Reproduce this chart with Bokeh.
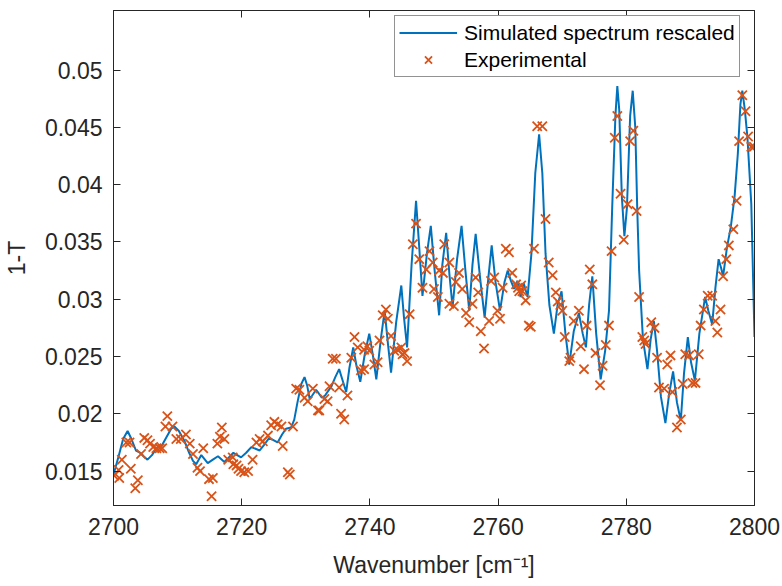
from bokeh.plotting import figure
from bokeh.models import Range1d, FixedTicker, LinearAxis
from bokeh.embed import file_html
from bokeh.resources import INLINE

# Simulated spectrum (rescaled)
sim_x = [2700.0, 2700.8, 2701.5, 2702.2, 2702.8, 2703.5, 2704.2, 2704.7, 2705.3, 2706.0,
         2706.7, 2707.5, 2708.3, 2709.0, 2709.5, 2710.2, 2711.1, 2711.8, 2712.4, 2712.9,
         2713.7, 2714.7, 2715.5, 2716.3, 2717.3, 2718.0, 2718.7, 2719.9, 2720.7, 2721.5,
         2722.8, 2723.5, 2724.3, 2725.6, 2726.3, 2726.9, 2727.7, 2728.2, 2728.7, 2729.3,
         2729.8, 2730.2, 2730.6, 2731.0, 2731.6, 2732.0, 2732.5, 2733.0, 2733.5, 2734.0,
         2734.6, 2735.2, 2735.7, 2736.3, 2736.8, 2737.4, 2737.9, 2738.5, 2739.2, 2739.9,
         2740.5, 2741.0, 2741.7, 2742.3, 2742.8, 2743.3, 2744.1, 2744.9, 2745.3, 2745.8,
         2746.5, 2747.2, 2747.7, 2748.2, 2748.9, 2749.5, 2750.1, 2750.8, 2751.3, 2751.9,
         2752.4, 2752.9, 2753.6, 2754.3, 2754.9, 2755.5, 2756.0, 2756.5, 2757.2, 2757.9,
         2758.5, 2759.0, 2759.6, 2760.3, 2761.0, 2761.5, 2762.0, 2762.5, 2763.0, 2763.5,
         2764.0, 2764.6, 2765.2, 2765.8, 2766.4, 2766.9, 2767.4, 2768.0, 2768.7, 2769.3,
         2769.9, 2770.5, 2771.1, 2771.8, 2772.6, 2773.2, 2773.7, 2774.2, 2774.7, 2775.3,
         2776.0, 2776.7, 2777.3, 2777.8, 2778.3, 2778.6, 2778.9, 2779.3, 2779.7, 2780.1,
         2780.6, 2781.0, 2781.4, 2781.7, 2782.0, 2782.6, 2783.3, 2783.8, 2784.3, 2784.8,
         2785.4, 2786.1, 2786.7, 2787.3, 2787.9, 2788.5, 2789.0, 2789.6, 2790.1, 2790.7,
         2791.4, 2792.3, 2792.8, 2793.4, 2793.9, 2794.4, 2794.8, 2795.1, 2795.7, 2796.3,
         2796.9, 2797.4, 2797.8, 2798.1, 2798.5, 2798.9, 2799.5, 2800.0]
sim_y = [0.0147, 0.0163, 0.0178, 0.0185, 0.0178, 0.0168, 0.0166, 0.0163, 0.0160, 0.0164,
         0.0170, 0.0172, 0.0180, 0.0187, 0.0189, 0.0185, 0.0176, 0.0166, 0.0159, 0.0156,
         0.0164, 0.0157, 0.0160, 0.0163, 0.0158, 0.0162, 0.0166, 0.0162, 0.0166, 0.0171,
         0.0168, 0.0173, 0.0179, 0.0175, 0.0182, 0.0187, 0.0188, 0.0195, 0.0210, 0.0226,
         0.0232, 0.0225, 0.0213, 0.0216, 0.0221, 0.0218, 0.0214, 0.0216, 0.0220, 0.0224,
         0.0232, 0.0239, 0.0230, 0.0219, 0.0240, 0.0258, 0.0242, 0.0228, 0.0252, 0.0270,
         0.0250, 0.0230, 0.0265, 0.0290, 0.0262, 0.0236, 0.0280, 0.0312, 0.0285, 0.0258,
         0.0330, 0.0386, 0.0345, 0.0303, 0.0340, 0.0364, 0.0325, 0.0286, 0.0330, 0.0358,
         0.0322, 0.0293, 0.0335, 0.0364, 0.0325, 0.0290, 0.0330, 0.0357, 0.0318, 0.0284,
         0.0320, 0.0347, 0.0315, 0.0290, 0.0315, 0.0325, 0.0316, 0.0309, 0.0316, 0.0302,
         0.0314, 0.0302, 0.0340, 0.0410, 0.0444, 0.0410, 0.0340, 0.0295, 0.0270, 0.0296,
         0.0307, 0.0270, 0.0243, 0.0272, 0.0288, 0.0270, 0.0258, 0.0295, 0.0320, 0.0270,
         0.0230, 0.0255, 0.0290, 0.0380, 0.0460, 0.0486, 0.0465, 0.0390, 0.0355, 0.0380,
         0.0460, 0.0482, 0.0450, 0.0380, 0.0325, 0.0265, 0.0239, 0.0265, 0.0281, 0.0255,
         0.0215, 0.0192, 0.0218, 0.0237, 0.0210, 0.0194, 0.0235, 0.0267, 0.0245, 0.0229,
         0.0270, 0.0302, 0.0290, 0.0278, 0.0310, 0.0335, 0.0327, 0.0320, 0.0345, 0.0363,
         0.0390, 0.0427, 0.0470, 0.0482, 0.0465, 0.0441, 0.0383, 0.0267]

# Experimental points
exp_x = [2700.1, 2700.9, 2700.8, 2701.3, 2702.0, 2702.5, 2702.7, 2703.8, 2703.4, 2704.3,
         2704.8, 2705.3, 2705.7, 2706.2, 2706.7, 2707.2, 2707.6, 2708.4, 2708.1, 2709.2,
         2709.8, 2710.5, 2711.3, 2711.9, 2712.4, 2713.1, 2713.5, 2714.0, 2714.9, 2715.5,
         2715.3, 2716.2, 2716.6, 2716.9, 2717.3, 2717.9, 2718.6, 2718.7, 2719.2, 2719.5,
         2719.9, 2720.4, 2721.0, 2721.7, 2722.3, 2722.8, 2723.3, 2724.1, 2724.6, 2725.1,
         2725.6, 2726.2, 2726.4, 2727.2, 2727.5, 2728.0, 2728.5, 2729.0, 2729.8, 2730.3,
         2731.1, 2731.9, 2732.1, 2732.9, 2733.4, 2733.7, 2734.2, 2734.7, 2735.2, 2735.5,
         2736.0, 2736.5, 2737.1, 2737.6, 2738.1, 2738.6, 2739.1, 2739.1, 2739.6, 2739.9,
         2740.7, 2741.2, 2741.5, 2742.0, 2742.5, 2742.8, 2743.3, 2743.8, 2744.3, 2744.9,
         2745.1, 2745.4, 2745.8, 2746.2, 2746.7, 2747.2, 2747.7, 2748.2, 2748.8, 2749.3,
         2749.8, 2750.0, 2750.6, 2750.8, 2751.4, 2751.6, 2752.4, 2752.4, 2753.1, 2753.4,
         2753.9, 2754.4, 2755.0, 2755.5, 2756.0, 2756.5, 2756.9, 2757.3, 2757.8, 2758.6,
         2758.9, 2759.4, 2759.9, 2760.3, 2760.7, 2761.2, 2761.7, 2762.2, 2762.8, 2763.1,
         2763.6, 2763.3, 2763.8, 2764.3, 2764.8, 2765.1, 2765.6, 2766.1, 2766.9, 2767.4,
         2767.9, 2768.5, 2769.0, 2769.3, 2769.7, 2770.0, 2770.4, 2771.1, 2771.3, 2771.8,
         2772.6, 2772.9, 2773.4, 2773.8, 2774.3, 2774.7, 2775.2, 2775.9, 2776.3, 2776.8,
         2777.3, 2777.7, 2778.2, 2778.6, 2779.1, 2779.6, 2780.2, 2780.6, 2781.1, 2781.6,
         2782.0, 2782.5, 2782.8, 2783.0, 2783.9, 2784.4, 2784.8, 2785.1, 2785.9, 2786.4,
         2786.9, 2787.2, 2787.9, 2788.5, 2788.8, 2789.2, 2789.8, 2790.3, 2790.8, 2791.3,
         2791.6, 2792.1, 2792.7, 2793.4, 2793.9, 2794.2, 2794.7, 2795.1, 2795.6, 2796.0,
         2796.7, 2797.2, 2797.6, 2798.1, 2798.6, 2799.0, 2799.5, 2799.9]
exp_y = [0.0146, 0.0144, 0.0151, 0.0160, 0.0175, 0.0175, 0.0152, 0.0142, 0.0135, 0.0165,
         0.0179, 0.0177, 0.0174, 0.0171, 0.0170, 0.0170, 0.0170, 0.0198, 0.0189, 0.0189,
         0.0178, 0.0178, 0.0182, 0.0174, 0.0165, 0.0153, 0.0150, 0.0170, 0.0143, 0.0144,
         0.0128, 0.0174, 0.0180, 0.0188, 0.0178, 0.0160, 0.0162, 0.0156, 0.0155, 0.0152,
         0.0150, 0.0149, 0.0150, 0.0160, 0.0175, 0.0178, 0.0176, 0.0181, 0.0190, 0.0193,
         0.0191, 0.0189, 0.0172, 0.0149, 0.0147, 0.0189, 0.0222, 0.0221, 0.0214, 0.0211,
         0.0222, 0.0203, 0.0203, 0.0213, 0.0211, 0.0224, 0.0248, 0.0248, 0.0223, 0.0200,
         0.0195, 0.0216, 0.0249, 0.0267, 0.0258, 0.0238, 0.0239, 0.0256, 0.0259, 0.0255,
         0.0243, 0.0245, 0.0264, 0.0286, 0.0291, 0.0283, 0.0268, 0.0255, 0.0256, 0.0258,
         0.0252, 0.0253, 0.0246, 0.0287, 0.0348, 0.0366, 0.0335, 0.0310, 0.0326, 0.0342,
         0.0332, 0.0309, 0.0302, 0.0325, 0.0323, 0.0348, 0.0296, 0.0332, 0.0294, 0.0315,
         0.0323, 0.0309, 0.0288, 0.0280, 0.0296, 0.0319, 0.0306, 0.0272, 0.0257, 0.0281,
         0.0316, 0.0319, 0.0290, 0.0283, 0.0310, 0.0344, 0.0341, 0.0323, 0.0313, 0.0310,
         0.0312, 0.0307, 0.0307, 0.0299, 0.0277, 0.0276, 0.0344, 0.0451, 0.0451, 0.0370,
         0.0332, 0.0321, 0.0306, 0.0298, 0.0295, 0.0290, 0.0267, 0.0246, 0.0249, 0.0281,
         0.0290, 0.0259, 0.0239, 0.0277, 0.0326, 0.0313, 0.0253, 0.0225, 0.0242, 0.0260,
         0.0277, 0.0342, 0.0441, 0.0460, 0.0392, 0.0352, 0.0383, 0.0438, 0.0447, 0.0377,
         0.0302, 0.0267, 0.0264, 0.0261, 0.0280, 0.0275, 0.0249, 0.0223, 0.0222, 0.0243,
         0.0251, 0.0219, 0.0188, 0.0195, 0.0226, 0.0252, 0.0251, 0.0227, 0.0227, 0.0252,
         0.0277, 0.0291, 0.0303, 0.0303, 0.0281, 0.0271, 0.0291, 0.0320, 0.0335, 0.0347,
         0.0361, 0.0386, 0.0438, 0.0478, 0.0464, 0.0442, 0.0433, 0.0433]

x_ticks = [2700, 2720, 2740, 2760, 2780, 2800]
y_ticks = [0.015, 0.02, 0.025, 0.03, 0.035, 0.04, 0.045, 0.05]
y_tick_labels = ["0.015", "0.02", "0.025", "0.03", "0.035", "0.04", "0.045", "0.05"]

FONT = "Liberation Sans"
AX = "#262626"
BLUE = "#0072BD"
ORANGE = "#D95319"

p = figure(width=782, height=586, x_range=Range1d(2700, 2800), y_range=Range1d(0.012, 0.0552),
           output_backend="svg", toolbar_location=None,
           min_border_left=111, min_border_right=28, min_border_top=10, min_border_bottom=81)
p.xgrid.visible = False
p.ygrid.visible = False
p.outline_line_color = AX
p.outline_line_width = 1
p.background_fill_color = "white"
p.border_fill_color = "white"

p.line(sim_x, sim_y, line_color=BLUE, line_width=2, legend_label="Simulated spectrum rescaled")
p.scatter(exp_x, exp_y, marker="x", size=13, line_color=ORANGE, line_width=1.8,
          legend_label="Experimental")

def style(ax, labels=True):
    ax.axis_line_color = AX
    ax.major_tick_line_color = AX
    ax.major_tick_in = 7
    ax.major_tick_out = 0
    ax.minor_tick_line_color = None
    ax.major_label_text_font = FONT
    ax.major_label_text_font_size = "23px" if labels else "0px"
    ax.major_label_text_color = AX
    ax.axis_label_text_font = FONT
    ax.axis_label_text_font_size = "23px"
    ax.axis_label_text_font_style = "normal"
    ax.axis_label_text_color = AX

xa = p.xaxis[0]
ya = p.yaxis[0]
xa.ticker = FixedTicker(ticks=x_ticks)
ya.ticker = FixedTicker(ticks=y_ticks)
ya.major_label_overrides = dict(zip(y_ticks, y_tick_labels))
style(xa)
style(ya)
xa.axis_label = "Wavenumber [cm\u207b\u00b9]"
ya.axis_label = "1-T"
xa.major_label_standoff = 12
xa.axis_label_standoff = 14
ya.major_label_standoff = 11
ya.axis_label_standoff = 12

top = LinearAxis(ticker=FixedTicker(ticks=x_ticks))
right = LinearAxis(ticker=FixedTicker(ticks=y_ticks))
style(top, labels=False)
style(right, labels=False)
top.major_label_text_alpha = 0
right.major_label_text_alpha = 0
p.add_layout(top, "above")
p.add_layout(right, "right")

lg = p.legend[0]
lg.location = (281, 428)
lg.margin = 0
lg.padding = 4
lg.spacing = 2
lg.glyph_width = 58
lg.glyph_height = 25
lg.label_height = 25
lg.label_standoff = 7
lg.label_text_font = FONT
lg.label_text_font_size = "21px"
lg.label_text_color = "#000000"
lg.border_line_color = AX
lg.border_line_width = 1
lg.background_fill_color = "white"
lg.background_fill_alpha = 1

open("out.html", "w").write(file_html(p, INLINE))
